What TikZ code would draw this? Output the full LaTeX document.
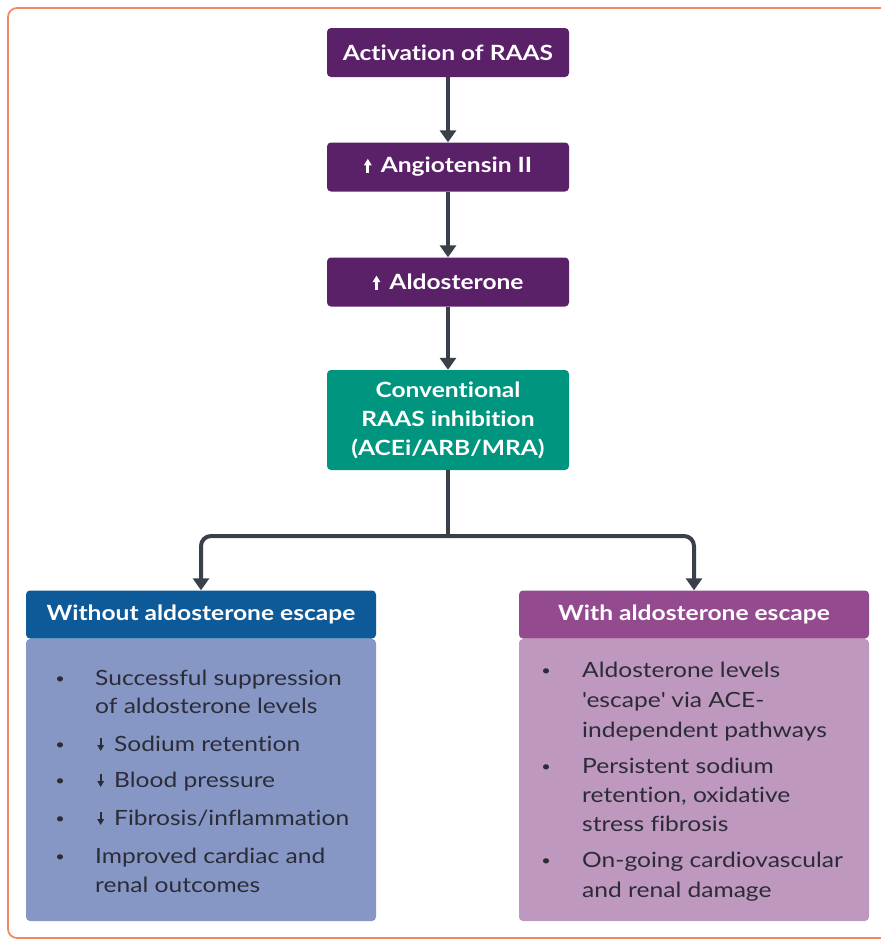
\documentclass[tikz,border=0pt]{standalone}
\usepackage{fontspec}
\setmainfont{Lato}[FakeStretch=1.17, Ligatures={NoCommon,TeX}]
\usetikzlibrary{arrows.meta}
\definecolor{dpurple}{HTML}{5A2068}
\definecolor{teal2}{HTML}{00957F}
\definecolor{bluehd}{HTML}{0E5A98}
\definecolor{bluebd}{HTML}{8797C5}
\definecolor{purphd}{HTML}{944A8F}
\definecolor{purpbd}{HTML}{BE98BF}
\definecolor{arrowc}{HTML}{3A404A}
\definecolor{bodytxt}{HTML}{2C2C38}
\definecolor{framec}{HTML}{EE8B63}
\newcommand{\upar}{\tikz[baseline=0pt,x=1pt,y=1pt,sharp corners]{\fill[sharp corners] (-1.4,0) rectangle (1.4,8); \fill[sharp corners] (-4,7.5) -- (4,7.5) -- (0,14) -- cycle;}\hspace{3pt}}
\newcommand{\dnar}{\tikz[baseline=0pt,x=1pt,y=1pt,sharp corners]{\fill[sharp corners] (-1.1,13.5) rectangle (1.1,5.5); \fill[sharp corners] (-3.5,6) -- (3.5,6) -- (0,0) -- cycle;}\hspace*{10pt}}
\tikzset{
  topbox/.style={fill=dpurple, text=white, rounded corners=4pt, minimum width=242pt, minimum height=49pt, inner sep=0pt, font=\bfseries\fontsize{21}{29}\selectfont, align=center},
  headbox/.style={rounded corners=4pt, minimum width=350pt, minimum height=48pt, inner sep=0pt, text=white, font=\bfseries\fontsize{21}{26}\selectfont},
  bodybox/.style={rounded corners=4pt, minimum width=350pt, minimum height=282pt, inner sep=0pt},
  itemtxt/.style={anchor=base west, inner sep=0pt, text=bodytxt, font=\fontsize{21}{29}\selectfont},
  bulletc/.style={anchor=base, inner sep=0pt, text=bodytxt, font=\fontsize{14}{14}\selectfont},
  conn/.style={draw=arrowc, line width=4pt},
  flow/.style={conn, -{Triangle[width=16pt,length=12pt]}},
}
\begin{document}
\begin{tikzpicture}[x=1pt,y=-1pt]
\useasboundingbox (0,0) rectangle (881,940);
\begin{scope}
\clip (0,0) rectangle (881,940);
\draw[framec, line width=1.8pt, rounded corners=9pt] (8,8) rectangle (930,938);
\end{scope}

\node[topbox] (act) at (448,52.5) {Activation of RAAS};
\node[topbox] (ang) at (448,167) {\upar\ Angiotensin II};
\node[topbox] (ald) at (448,282) {\upar\ Aldosterone};
\node[topbox, fill=teal2, minimum height=100pt] (conv) at (448,420) {Conventional\\RAAS inhibition\\(ACEi/ARB/MRA)};

\draw[flow] (act.south) -- (ang.north);
\draw[flow] (ang.south) -- (ald.north);
\draw[flow] (ald.south) -- (conv.north);

\node[bodybox, fill=bluebd] (lbody) at (201,780) {};
\node[headbox, fill=bluehd] (lhead) at (201,614.5) {Without aldosterone escape};
\node[bodybox, fill=purpbd] (rbody) at (694,780) {};
\node[headbox, fill=purphd] (rhead) at (694,614.5) {With aldosterone escape};

\coordinate (split) at (448,536);
\draw[conn] (conv.south) -- ([yshift=2pt]split);
\draw[flow, rounded corners=10pt] (split) -| (lhead.north);
\draw[flow, rounded corners=10pt] (split) -| (rhead.north);

% left items
\node[bulletc] (lb1) at (60,683) {•};
\node[itemtxt] (l1a) at (95,685) {Successful suppression};
\node[itemtxt] (l1b) at (95,713) {of aldosterone levels};
\node[bulletc] (lb2) at (60,749) {•};
\node[itemtxt] (l2) at (97,751) {\dnar Sodium retention};
\node[bulletc] (lb3) at (60,785) {•};
\node[itemtxt] (l3) at (97,787) {\dnar Blood pressure};
\node[bulletc] (lb4) at (60,823) {•};
\node[itemtxt] (l4) at (97,825) {\dnar Fibrosis/inflammation};
\node[bulletc] (lb5) at (60,861) {•};
\node[itemtxt] (l5a) at (95,863) {Improved cardiac and};
\node[itemtxt] (l5b) at (95,892) {renal outcomes};

% right items
\node[bulletc] (rb1) at (546,675) {•};
\node[itemtxt] (r1a) at (582,677) {Aldosterone levels};
\node[itemtxt] (r1b) at (582,707) {\textquotesingle escape\textquotesingle\ via ACE-};
\node[itemtxt] (r1c) at (582,737) {independent pathways};
\node[bulletc] (rb2) at (546,771) {•};
\node[itemtxt] (r2a) at (582,773) {Persistent sodium};
\node[itemtxt] (r2b) at (582,802) {retention, oxidative};
\node[itemtxt] (r2c) at (582,831) {stress fibrosis};
\node[bulletc] (rb3) at (546,865) {•};
\node[itemtxt] (r3a) at (582,867) {On-going cardiovascular};
\node[itemtxt] (r3b) at (582,897) {and renal damage};
\end{tikzpicture}
\end{document}
